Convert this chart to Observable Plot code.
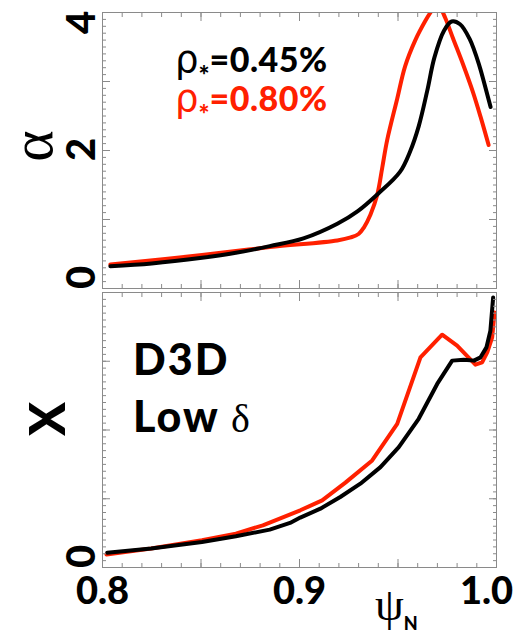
<!DOCTYPE html>
<html><head><meta charset="utf-8">
<script src="https://cdn.jsdelivr.net/npm/d3@7"></script>
<script src="https://cdn.jsdelivr.net/npm/@observablehq/plot@0.6"></script>
<style>
body{margin:0;background:#fff;}
#wrap{position:relative;width:529px;height:633px;overflow:hidden;}
#wrap svg{position:absolute;left:0;}
</style></head><body><div id="wrap"></div>
<script>
// ---- data ----
const psiTopBlack = [0.804,0.825,0.8505,0.8677,0.8849,0.902,0.9192,0.9296,0.9399,0.951,0.9562,0.9605,0.9648,0.9685,0.9734,0.9772,0.9815,0.9863,0.9914,0.997];
const alphaBlack  = [0.324,0.363,0.445,0.517,0.614,0.726,0.938,1.122,1.374,1.69,1.99,2.35,2.86,3.35,3.74,3.87,3.83,3.62,3.22,2.63];
const psiTopRed   = [0.804,0.8505,0.885,0.9192,0.926,0.93,0.9326,0.936,0.9394,0.942,0.9445,0.9496,0.9536,0.9588,0.9639,0.9665,0.969,0.9715,0.974,0.978,0.983,0.988,0.992,0.996];
const alphaRed    = [0.348,0.484,0.60,0.697,0.74,0.79,0.88,1.07,1.35,1.75,2.15,2.75,3.22,3.60,3.88,4.0,4.1,4.06,3.92,3.62,3.25,2.85,2.48,2.08];

const psiBotBlack = [0.8024,0.8247,0.8505,0.8677,0.8849,0.8952,0.9004,0.9106,0.9207,0.9309,0.9411,0.9504,0.9605,0.9699,0.9775,0.9834,0.9885,0.9919,0.9949,0.9969,0.9983];
const chiBlack    = [0.213,0.276,0.372,0.455,0.551,0.648,0.726,0.856,1.025,1.219,1.460,1.750,2.163,2.670,3.009,3.023,3.009,3.057,3.202,3.444,3.927];
const psiBotRed   = [0.802,0.8247,0.8505,0.8677,0.8814,0.9004,0.9115,0.9233,0.9369,0.9496,0.9614,0.9724,0.98,0.9893,0.9927,0.9953,0.9978,0.999];
const chiRed      = [0.189,0.276,0.397,0.493,0.614,0.832,0.977,1.234,1.557,2.090,3.057,3.386,3.226,2.951,2.984,3.129,3.347,3.71];

const seriesLabels = ["0.45%", "0.80%"];
const seriesColors = ["#000000", "#ff2000"];
const xTickLabels = [0.8, 0.9, 1.0];
const yTickLabelsTop = [0, 2, 4];
const yTickLabelsBottom = [0];
const annotation = ["D3D", "Low"];

// ---- helpers ----
const toRows = (xs, ys) => xs.map((x, i) => ({x, y: ys[i]}));
const xMinor = d3.range(0, 21).map(i => +(0.8 + i * 0.01).toFixed(2));
const xMajor = d3.range(0, 5).map(i => +(0.8 + i * 0.05).toFixed(2));
const yMinor = d3.range(0, 41).map(i => +(i * 0.1).toFixed(1));
const yMajor = [0, 1, 2, 3, 4];
const grey = "#8a8a8a";

function tickAxes() {
  const m = [];
  for (const a of ["top", "bottom"]) {
    m.push(Plot.axisX(xMinor, {anchor: a, tickSize: -4, tickFormat: () => "", stroke: grey}));
    m.push(Plot.axisX(xMajor, {anchor: a, tickSize: -8, tickFormat: () => "", stroke: grey}));
  }
  for (const a of ["left", "right"]) {
    m.push(Plot.axisY(yMinor, {anchor: a, tickSize: -4, tickFormat: () => "", stroke: grey}));
    m.push(Plot.axisY(yMajor, {anchor: a, tickSize: -8, tickFormat: () => "", stroke: grey}));
  }
  return m;
}

function yLabelAxes(labels) {
  return labels.map(v => Plot.axisY([v], {
    anchor: "left", tickSize: 0, tickPadding: 20, tickRotate: -90, lineAnchor: "middle",
    fontSize: 40, fontWeight: 900, fill: "black",
    dy: v === 0 ? -11 : v === 4 ? 10 : -1,
    tickFormat: d => String(d)
  }));
}

function lineMarks(rowsRed, rowsBlack, curve) {
  return [
    Plot.line(rowsRed, {x: "x", y: "y", stroke: seriesColors[1], strokeWidth: 4, curve, clip: "frame", strokeLinejoin: "round"}),
    Plot.line(rowsBlack, {x: "x", y: "y", stroke: seriesColors[0], strokeWidth: 4, curve, clip: "frame", strokeLinejoin: "round"})
  ];
}

const common = {
  width: 529, marginLeft: 102, marginRight: 33,
  x: {domain: [0.8, 1.0], label: null},
  y: {domain: [0, 4], label: null},
  style: {fontFamily: "Lato, 'DejaVu Sans', sans-serif", background: "transparent"}
};

const topPlot = Plot.plot({
  ...common, height: 290, marginTop: 12, marginBottom: 2,
  marks: [
    ...lineMarks(toRows(psiTopRed, alphaRed), toRows(psiTopBlack, alphaBlack), "catmull-rom"),
    ...tickAxes(),
    ...yLabelAxes(yTickLabelsTop),
    Plot.frame({stroke: grey})
  ]
});

const bottomPlot = Plot.plot({
  ...common, height: 343, marginTop: 2, marginBottom: 66,
  marks: [
    ...lineMarks(toRows(psiBotRed, chiRed), toRows(psiBotBlack, chiBlack), "linear"),
    ...tickAxes(),
    ...yLabelAxes(yTickLabelsBottom),
    ...xTickLabels.map(v => Plot.axisX([v], {
      anchor: "bottom", tickSize: 0, tickPadding: 10, fontSize: 38, fontWeight: 900, fill: "black",
      dx: v === 1.0 ? -10 : 0, tickFormat: d => d.toFixed(1)
    })),
    Plot.frame({stroke: grey})
  ]
});

const wrap = document.getElementById("wrap");
topPlot.style.top = "0px";
bottomPlot.style.top = "290px";
wrap.appendChild(topPlot);
wrap.appendChild(bottomPlot);

// ---- overlay text: legend, annotation, axis titles ----
const ov = d3.select(wrap).append("svg").attr("width", 529).attr("height", 633)
  .style("top", "0px").style("pointer-events", "none");

seriesLabels.forEach((lab, i) => {
  const t = ov.append("text").attr("x", 175).attr("y", 72 + i * 39).attr("fill", seriesColors[i]);
  t.append("tspan").attr("font-family", "DejaVu Sans").attr("font-size", 37).text("ρ");
  t.append("tspan").attr("font-family", "Lato").attr("font-weight", 900).attr("font-size", 26).attr("dy", 13).text("*");
  t.append("tspan").attr("font-family", "Lato").attr("font-weight", 900).attr("font-size", 34)
    .attr("letter-spacing", 0.5).attr("dy", -13).text("=" + lab);
});

ov.append("text").attr("x", 133).attr("y", 375).attr("font-family", "Lato").attr("font-weight", 900)
  .attr("font-size", 43).attr("letter-spacing", 2).text(annotation[0]);
ov.append("text").attr("x", 133).attr("y", 432).attr("font-family", "Lato").attr("font-weight", 900)
  .attr("font-size", 43).attr("letter-spacing", 2).text(annotation[1]);
ov.append("text").attr("x", 231).attr("y", 432).attr("font-family", "Liberation Serif")
  .attr("font-size", 40).text("δ");

ov.append("text").attr("transform", "translate(52,146) rotate(-90)").attr("text-anchor", "middle")
  .attr("font-family", "Liberation Serif").attr("font-size", 60).text("α");
ov.append("text").attr("transform", "translate(65,419) rotate(-90)").attr("text-anchor", "middle")
  .attr("font-family", "Lato").attr("font-weight", 900).attr("font-size", 50).text("X");

const psiLab = ov.append("text").attr("x", 375).attr("y", 620);
psiLab.append("tspan").attr("font-family", "Liberation Serif").attr("font-size", 46).text("ψ");
psiLab.append("tspan").attr("font-family", "Lato").attr("font-weight", 900).attr("font-size", 18).attr("dy", 10).text("N");
</script>
</body></html>
